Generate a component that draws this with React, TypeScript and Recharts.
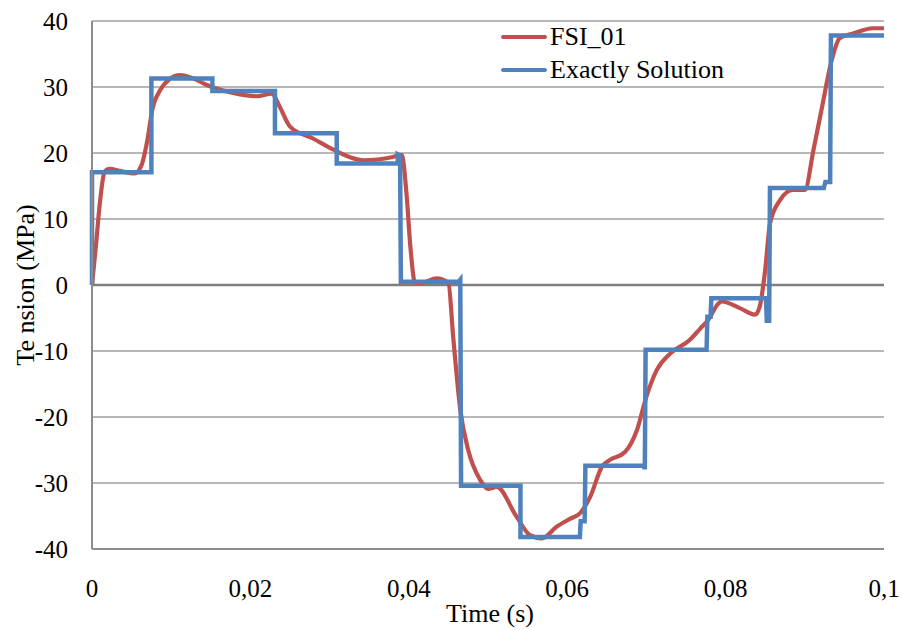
import React from 'react'
import { LineChart, Line, XAxis, YAxis, CartesianGrid, ReferenceLine, Legend } from 'recharts'

// FSI_01 (smooth simulated curve)
const fsiTime = [
  0, 0.0005, 0.001, 0.0016, 0.0022, 0.0035, 0.0054, 0.0062, 0.007, 0.0076, 0.0086, 0.0098,
  0.0111, 0.0128, 0.0145, 0.0174, 0.0208, 0.0227, 0.0237, 0.025, 0.0279, 0.0305, 0.0325,
  0.0343, 0.038, 0.0391, 0.0397, 0.0402, 0.0408, 0.0415, 0.0435, 0.045, 0.0456, 0.0465,
  0.0475, 0.049, 0.05, 0.0511, 0.0536, 0.0553, 0.0568, 0.0587, 0.0604, 0.0616, 0.0629,
  0.0644, 0.0654, 0.0673, 0.0688, 0.07, 0.0713, 0.073, 0.0755, 0.0768, 0.0778, 0.0791,
  0.0795, 0.0818, 0.0837, 0.0843, 0.085, 0.0856, 0.0869, 0.0885, 0.09, 0.0911, 0.0921,
  0.0934, 0.0944, 0.0961, 0.0986, 0.1,
]
const fsiTension = [
  0, 6, 12.5, 17.2, 17.6, 17.3, 16.9, 18, 22, 26.5, 29.5, 31.2,
  31.8, 31.3, 30.3, 29.2, 28.6, 29, 27, 24, 22.2, 20.5, 19.4,
  18.9, 19.4, 19.7, 14, 5.8, 0.3, 0.3, 1, 0.3, -7.8, -18.9,
  -25, -29.5, -30.9, -30.6, -35.1, -37.9, -38.4, -36.6, -35.4, -34.6, -32.1,
  -27.5, -26.5, -25.3, -22, -16.9, -12.9, -10.4, -8.3, -6.6, -5.3, -2.8,
  -2.5, -3.5, -4.5, -3.3, 2.3, 9.3, 12.9, 14.4, 14.4, 20.5, 26.5,
  34.1, 37.4, 38.1, 38.9, 38.9,
]

// Exactly Solution (step function vertices)
const exactTime = [
  0, 0, 0.0075, 0.0075, 0.0152, 0.0152, 0.0231, 0.0231, 0.0309, 0.0309, 0.0386, 0.0386,
  0.0389, 0.039, 0.0463, 0.0465, 0.0466, 0.0541, 0.0541, 0.0616, 0.0617, 0.0622, 0.0623,
  0.0697, 0.0698, 0.0699, 0.0776, 0.0777, 0.0781, 0.0782, 0.0851, 0.0852, 0.0855, 0.0856,
  0.0924, 0.0926, 0.0932, 0.0933, 0.1,
]
const exactTension = [
  0, 17.1, 17.1, 31.3, 31.3, 29.4, 29.4, 23, 23, 18.4, 18.4, 19.8,
  19.6, 0.5, 0.5, 0.8, -30.4, -30.4, -38.2, -38.2, -35.8, -35.8, -27.4,
  -27.4, -27.9, -9.8, -9.8, -4.8, -4.8, -2, -2, -5.4, -5.4, 14.7,
  14.7, 15.6, 15.6, 37.8, 37.8,
]

const xTicks = [0, 0.02, 0.04, 0.06, 0.08, 0.1]
const yTicks = [-40, -30, -20, -10, 0, 10, 20, 30, 40]

const fsiData = fsiTime.map((t, i) => ({ t, v: fsiTension[i] }))
const exactData = exactTime.map((t, i) => ({ t, v: exactTension[i] }))

const RED = '#C0504D'
const BLUE = '#4F81BD'
const FONT = '"Liberation Serif", "Times New Roman", serif'

const fmtX = (v: number) => (v === 0 ? '0' : String(v).replace('.', ','))

const XTick = ({ x, y, payload }: any) => (
  <text x={x} y={y} dy={18} textAnchor="middle" fill="#000" fontSize={25} style={{ fontFamily: FONT }}>
    {fmtX(payload.value)}
  </text>
)

const YTick = ({ x, y, payload }: any) => (
  <text x={x} y={y} dy={9} textAnchor="end" fill="#000" fontSize={25} style={{ fontFamily: FONT }}>
    {payload.value}
  </text>
)

const XTitle = ({ viewBox }: any) => (
  <text x={viewBox.x + viewBox.width / 2 + 2} y={622} textAnchor="middle" fill="#000" fontSize={26} style={{ fontFamily: FONT }}>
    Time (s)
  </text>
)

const YTitle = ({ viewBox }: any) => {
  const cy = viewBox.y + viewBox.height / 2
  return (
    <text x={25} y={cy} dy={9} transform={`rotate(-90 25 ${cy})`} textAnchor="middle" fill="#000" fontSize={26} style={{ fontFamily: FONT }}>
      Te nsion (MPa)
    </text>
  )
}

const LegendBox = () => (
  <div style={{ fontFamily: FONT, fontSize: 26, color: '#000', lineHeight: '33px' }}>
    {[
      { name: 'FSI_01', color: RED },
      { name: 'Exactly Solution', color: BLUE },
    ].map((e) => (
      <div key={e.name} style={{ display: 'flex', alignItems: 'center', whiteSpace: 'nowrap' }}>
        <span style={{ display: 'inline-block', width: 46, height: 4, borderRadius: 2, background: e.color, marginRight: 3 }} />
        <span>{e.name}</span>
      </div>
    ))}
  </div>
)

export default function App() {
  return (
    <div style={{ position: 'absolute', left: 0, top: 0, width: 903, height: 630, background: '#fff' }}>
      <LineChart width={903} height={630} margin={{ top: 21, right: 19, left: 0, bottom: 0 }}>
        <CartesianGrid stroke="#a0a0a0" strokeWidth={1.5} vertical={false} />
        <XAxis
          type="number"
          dataKey="t"
          domain={[0, 0.1]}
          ticks={xTicks}
          height={81}
          tickLine={false}
          tickSize={0}
          tickMargin={30}
          axisLine={{ stroke: '#8c8c8c', strokeWidth: 2 }}
          tick={<XTick />}
          allowDuplicatedCategory={false}
          label={<XTitle />}
        />
        <YAxis
          type="number"
          domain={[-40, 40]}
          ticks={yTicks}
          width={92}
          tickLine={false}
          tickSize={0}
          tickMargin={24}
          axisLine={{ stroke: '#8c8c8c', strokeWidth: 2 }}
          tick={<YTick />}
          label={<YTitle />}
        />
        <ReferenceLine y={0} stroke="#7f7f7f" strokeWidth={2.5} />
        <Legend
          content={<LegendBox />}
          layout="vertical"
          align="center"
          verticalAlign="middle"
          wrapperStyle={{ top: 20, left: 501, width: 250 }}
        />
        <Line data={fsiData} dataKey="v" name="FSI_01" type="monotone" stroke={RED} strokeWidth={4.2} dot={false} isAnimationActive={false} />
        <Line data={exactData} dataKey="v" name="Exactly Solution" type="linear" stroke={BLUE} strokeWidth={4.5} dot={false} isAnimationActive={false} />
      </LineChart>
    </div>
  )
}
